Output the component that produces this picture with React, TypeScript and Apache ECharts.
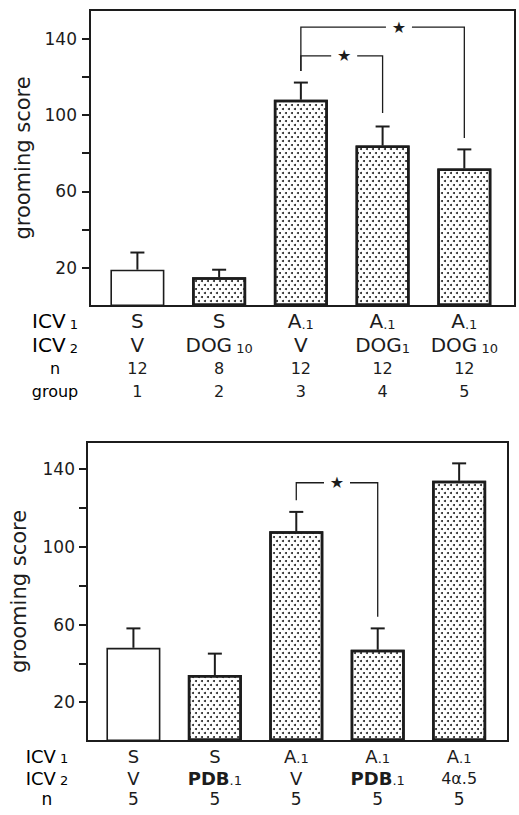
import React, { useEffect, useRef } from "react";
import * as echarts from "echarts";

// ---------- data ----------
const topMeans = [19, 15, 108, 84, 72];
const topErr = [9, 4, 9, 10, 10];
const topIcv1Main = ["S", "S", "A", "A", "A"];
const topIcv1Sub = ["", "", ".1", ".1", ".1"];
const topIcv2Main = ["V", "DOG", "V", "DOG", "DOG"];
const topIcv2Sub = ["", " 10", "", "1", " 10"];
const topN = [12, 8, 12, 12, 12];
const topGroup = [1, 2, 3, 4, 5];
const topDotted = [false, true, true, true, true];
// [fromBar, toBar, fromY, toY, bracketY, starX]
const topBrackets = [
  [2, 3, 123, 101, 131, 2.53],
  [2, 4, 123, 88, 146, 3.2],
];

const botMeans = [48, 34, 108, 47, 134];
const botErr = [10, 11, 10, 11, 9];
const botIcv1Main = ["S", "S", "A", "A", "A"];
const botIcv1Sub = ["", "", ".1", ".1", ".1"];
const botIcv2Main = ["V", "PDB", "V", "PDB", "4\u03b1"];
const botIcv2Sub = ["", ".1", "", ".1", ".5"];
const botN = [5, 5, 5, 5, 5];
const botDotted = [false, true, true, true, true];
const botBrackets = [[2, 3, 124, 64, 133, 2.5]];

const yTicks = [20, 40, 60, 80, 100, 120, 140];
const yLabels = [20, 60, 100, 140];
const barPositions = [0, 1, 2, 3, 4];

const FONT = "DejaVu Sans";
const INK = "#1c1c1c";

const decal = {
  symbol: "circle",
  symbolSize: 1,
  color: "#222",
  backgroundColor: "#fff",
  dashArrayX: [
    [1.5, 3.5],
    [0, 2.5, 1.5, 1],
  ],
  dashArrayY: [1.5, 1.3],
  rotation: 0,
};

const makeRich = (fs: number, lh: number, nlh: number) => ({
  m: { fontSize: fs, lineHeight: lh, fontFamily: FONT, color: INK },
  b: { fontSize: fs, lineHeight: lh, fontFamily: FONT, color: INK, fontWeight: "bold" },
  s: { fontSize: 13, lineHeight: lh, fontFamily: FONT, color: INK, verticalAlign: "bottom", padding: [0, 0, 2, 0] },
  k: { fontSize: fs - 2, lineHeight: lh, fontFamily: FONT, color: INK },
  n: { fontSize: 16, lineHeight: nlh, fontFamily: FONT, color: INK },
  q: { fontSize: 17, lineHeight: nlh, fontFamily: FONT, color: INK },
});
const richTop = makeRich(20, 24, 23);
const richBot = makeRich(18, 22, 20);

function frag(style: string, t: string) {
  return t ? `{${style}|${t}}` : "";
}

function App() {
  const ref = useRef<HTMLDivElement>(null);
  useEffect(() => {
    if (!ref.current) return;
    const chart = echarts.init(ref.current, undefined, { renderer: "svg" });

    const makeBars = (means: number[], dotted: boolean[], idx: number) => ({
      type: "bar",
      xAxisIndex: idx,
      yAxisIndex: idx,
      barWidth: 54,
      z: 2,
      data: means.map((v, i) => ({
        value: [barPositions[i], v],
        itemStyle: dotted[i]
          ? { color: "#fff", borderColor: INK, borderWidth: 2.5, decal }
          : { color: "#fff", borderColor: INK, borderWidth: 1.6 },
      })),
    });

    const makeErr = (means: number[], err: number[], idx: number) => ({
      type: "custom",
      xAxisIndex: idx,
      yAxisIndex: idx,
      z: 4,
      data: means.map((v, i) => [barPositions[i], v, v + err[i]]),
      renderItem: (params: any, api: any) => {
        const x = api.value(0);
        const p0 = api.coord([x, api.value(1)]);
        const p1 = api.coord([x, api.value(2)]);
        const st = { stroke: INK, lineWidth: 2 };
        return {
          type: "group",
          children: [
            { type: "line", shape: { x1: p0[0], y1: p0[1], x2: p1[0], y2: p1[1] }, style: st },
            { type: "line", shape: { x1: p1[0] - 7, y1: p1[1], x2: p1[0] + 7, y2: p1[1] }, style: st },
          ],
        };
      },
    });

    const makeBrackets = (rows: number[][], idx: number) => ({
      type: "custom",
      xAxisIndex: idx,
      yAxisIndex: idx,
      z: 5,
      data: rows,
      renderItem: (params: any, api: any) => {
        const a = api.coord([api.value(0), api.value(2)]);
        const aTop = api.coord([api.value(0), api.value(4)]);
        const b = api.coord([api.value(1), api.value(3)]);
        const bTop = api.coord([api.value(1), api.value(4)]);
        const s = api.coord([api.value(5), api.value(4)]);
        const gap = 13;
        const st = { stroke: INK, lineWidth: 1.3, fill: null };
        return {
          type: "group",
          children: [
            { type: "polyline", shape: { points: [a, aTop, [s[0] - gap, s[1]]] }, style: st },
            { type: "polyline", shape: { points: [[s[0] + gap, s[1]], bTop, b] }, style: st },
            {
              type: "text",
              x: s[0],
              y: s[1],
              style: {
                text: "\u2605",
                fontSize: 16,
                fontFamily: FONT,
                fill: INK,
                align: "center",
                verticalAlign: "middle",
              },
            },
          ],
        };
      },
    });

    const xAxisBase = (idx: number, min: number, max: number, fmt: (v: number) => string, margin: number, rich: any) => ({
      type: "value",
      gridIndex: idx,
      min,
      max,
      axisLine: { show: true, onZero: false, lineStyle: { color: INK, width: 2 } },
      axisTick: { show: false },
      splitLine: { show: false },
      axisLabel: {
        customValues: barPositions,
        formatter: fmt,
        margin,
        rich,
        align: "center",
      },
    });

    const yAxisBase = (idx: number, max: number, margin: number, nameGap: number) => ({
      type: "value",
      gridIndex: idx,
      min: 0,
      max,
      axisLine: { show: true, onZero: false, lineStyle: { color: INK, width: 2 } },
      axisTick: { show: true, inside: false, length: 8, customValues: yTicks, lineStyle: { color: INK, width: 2 } },
      axisLabel: { customValues: yLabels, margin, fontSize: 17, fontFamily: FONT, color: INK },
      splitLine: { show: false },
      name: "grooming score",
      nameLocation: "middle",
      nameGap,
      nameTextStyle: { fontSize: 21, fontFamily: FONT, color: INK },
    });

    const topFmt = (v: number) => {
      const i = Math.round(v);
      return [
        frag("m", topIcv1Main[i]) + frag("s", topIcv1Sub[i]),
        frag("m", topIcv2Main[i]) + frag("s", topIcv2Sub[i]),
        frag("n", String(topN[i])),
        frag("n", String(topGroup[i])),
      ].join("\n");
    };
    const botFmt = (v: number) => {
      const i = Math.round(v);
      const main = botIcv2Main[i];
      const ms = main === "PDB" ? "b" : main === "V" ? "m" : "k";
      const ss = ms === "k" ? "k" : "s";
      return [
        frag("m", botIcv1Main[i]) + frag("s", botIcv1Sub[i]),
        frag(ms, main) + frag(ss, botIcv2Sub[i]),
        frag("q", String(botN[i])),
      ].join("\n");
    };

    chart.setOption({
      animation: false,
      backgroundColor: "#fff",
      grid: [
        { left: 90, top: 10, width: 425, height: 296, show: true, borderColor: INK, borderWidth: 2, backgroundColor: "transparent" },
        { left: 82, top: 442, width: 426, height: 299, show: true, borderColor: INK, borderWidth: 2, backgroundColor: "transparent" },
      ],
      xAxis: [
        xAxisBase(0, -0.58, 4.62, topFmt, 3, richTop),
        xAxisBase(1, -0.57, 4.6, botFmt, 4, richBot),
      ],
      yAxis: [yAxisBase(0, 155, 13, 56), yAxisBase(1, 154, 12, 58)],
      graphic: [
        {
          type: "text",
          x: 55,
          y: 309,
          style: {
            text: ["{m|ICV}{s| 1}", "{m|ICV}{s| 2}", "{n|n}", "{n|group}"].join("\n"),
            rich: richTop,
            align: "center",
            verticalAlign: "top",
          },
        },
        {
          type: "text",
          x: 47,
          y: 745,
          style: {
            text: ["{m|ICV}{s| 1}", "{m|ICV}{s| 2}", "{q|n}"].join("\n"),
            rich: richBot,
            align: "center",
            verticalAlign: "top",
          },
        },
      ],
      series: [
        makeBars(topMeans, topDotted, 0),
        makeErr(topMeans, topErr, 0),
        makeBrackets(topBrackets, 0),
        makeBars(botMeans, botDotted, 1),
        makeErr(botMeans, botErr, 1),
        makeBrackets(botBrackets, 1),
      ],
    });
    return () => chart.dispose();
  }, []);
  return <div ref={ref} style={{ position: "fixed", left: 0, top: 0, width: 519, height: 815 }} />;
}

export default App;
